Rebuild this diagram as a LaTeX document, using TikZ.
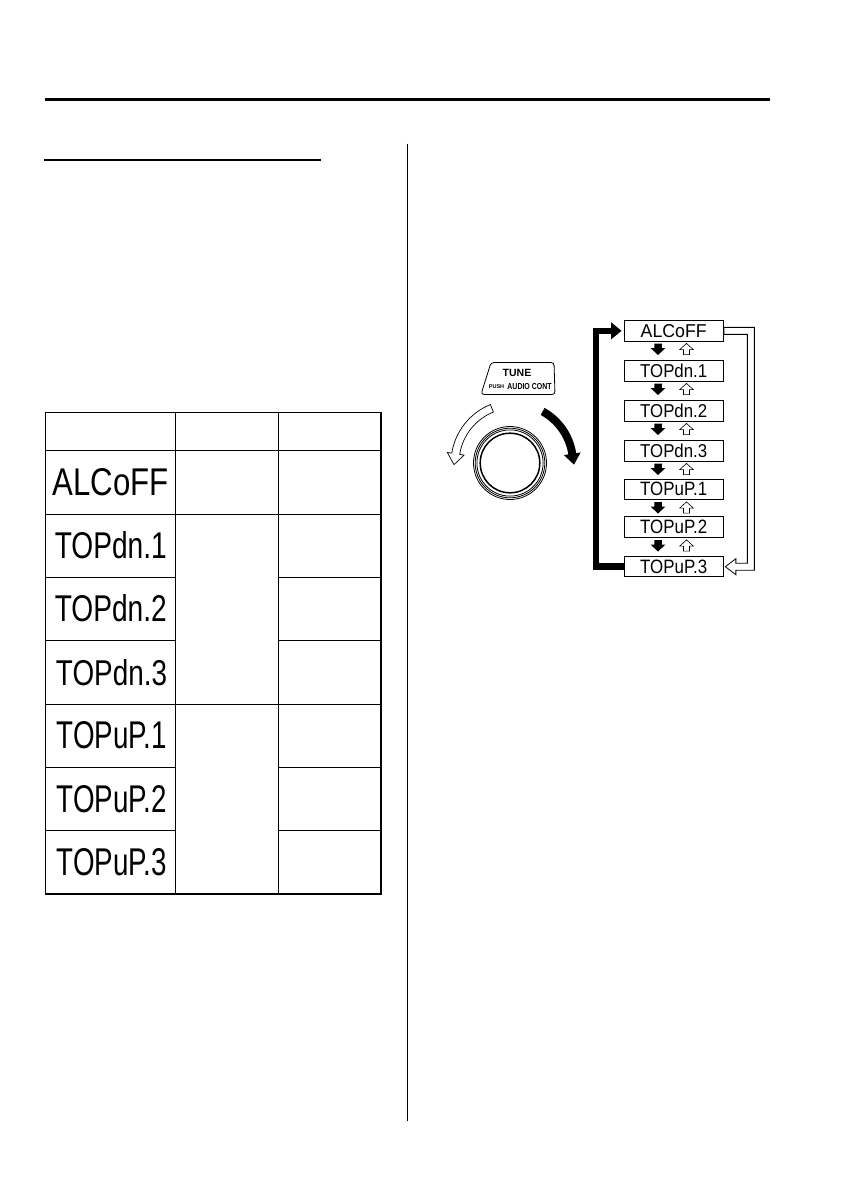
\documentclass[tikz,border=0pt]{standalone}
\usepackage{fontspec}
\setmainfont{Liberation Sans}
\usepackage{graphicx}
\usetikzlibrary{calc,arrows.meta}
\newcommand\seg[3]{\resizebox{#1}{#2}{#3}}
\tikzset{
  grid/.style={line width=1.3pt},
  segt/.style={inner sep=0pt},
  disp/.style={draw,line width=1pt,minimum width=99.3pt,minimum height=20.3pt,inner sep=0pt},
  blackdown/.pic={\fill (-3.75,-5.5) -- (3.75,-5.5) -- (3.75,-1) -- (7.5,-1) -- (0,6) -- (-7.5,-1) -- (-3.75,-1) -- cycle;},
  whiteup/.pic={\draw[fill=white,line width=0.6pt] (0,-5.6) -- (6.8,0.6) -- (3,0.6) -- (3,5.6) -- (-3,5.6) -- (-3,0.6) -- (-6.8,0.6) -- cycle;},
  bigblack/.style={line width=6.5pt,line join=miter,-{Triangle[length=10.5pt,width=16.5pt]},shorten >=2pt},
  lab/.style={inner sep=0pt,font=\bfseries}
}
\begin{document}
\begin{tikzpicture}[x=1pt,y=-1pt]
\useasboundingbox (0,0) rectangle (846,1196);
\fill[white] (0,0) rectangle (846,1196);

% page rules
\draw[line width=3pt] (45,99.2) -- (770,99.2);
\draw[line width=2pt] (44,160) -- (321,160);
\draw[line width=1.5pt] (407.5,143.5) -- (407.5,1121);

% table
\draw[grid] (45.5,412.7) rectangle (381,894);
\foreach \x in {175.5,278.3} \draw[grid] (\x,412.7) -- (\x,894);
\foreach \y in {450.5,514.3,704.3} \draw[grid] (45.5,\y) -- (381,\y);
\foreach \y in {577.3,640.5,767.3,830.7} {
  \draw[grid] (45.5,\y) -- (175.5,\y);
  \draw[grid] (278.3,\y) -- (381,\y);
}
\node[segt] (t1) at (110.5,482.4) {\seg{116pt}{27pt}{ALCoFF}};
\node[segt] (t2) at (110.8,545.3) {\seg{112pt}{27pt}{TOPdn.1}};
\node[segt] (t3) at (110.8,608.6) {\seg{112pt}{27pt}{TOPdn.2}};
\node[segt] (t4) at (111.5,672.2) {\seg{111pt}{26pt}{TOPdn.3}};
\node[segt] (t5) at (111.8,735.3) {\seg{110pt}{27pt}{TOPuP.1}};
\node[segt] (t6) at (111.8,798.8) {\seg{110pt}{27pt}{TOPuP.2}};
\node[segt] (t7) at (111.8,862.0) {\seg{110pt}{27pt}{TOPuP.3}};

% display boxes
\node[disp] (d1) at (673.7,330.85) {\seg{66pt}{13pt}{ALCoFF}};
\node[disp] (d2) at (673.7,370.85) {\seg{67pt}{13.5pt}{TOPdn.1}};
\node[disp] (d3) at (673.7,410.85) {\seg{67pt}{13.5pt}{TOPdn.2}};
\node[disp] (d4) at (673.7,450.85) {\seg{67pt}{13.5pt}{TOPdn.3}};
\node[disp] (d5) at (673.7,489.3) {\seg{67pt}{13.5pt}{TOPuP.1}};
\node[disp] (d6) at (673.7,527.0) {\seg{67pt}{13.5pt}{TOPuP.2}};
\node[disp] (d7) at (673.7,566.7) {\seg{67pt}{13.5pt}{TOPuP.3}};

% small arrows between boxes
\foreach \y in {349,389,429,469,507.5,545.5} {
  \pic at (658,\y) {blackdown};
  \pic at (686.5,\y) {whiteup};
}

% thick black return arrow
\draw[bigblack] (d7.west) -- ++(-27.5,0) |- (d1.west);

% white outlined arrow
\draw[fill=white,line width=0.8pt,line join=miter]
  ($(d1.east)+(0,-3.5)$) -- ($(d1.east)+(30.5,-3.5)$) -- ($(d7.east)+(30.5,3.5)$)
  -- ($(d7.east)+(12,3.5)$) -- ($(d7.east)+(12,8)$) -- ($(d7.east)+(1.5,0)$)
  -- ($(d7.east)+(12,-8)$) -- ($(d7.east)+(12,-3.5)$) -- ($(d7.east)+(23.5,-3.5)$)
  -- ($(d1.east)+(23.5,3.5)$) -- ($(d1.east)+(0,3.5)$) -- cycle;

% knob
\coordinate (K) at (510,463);
\draw[line width=0.8pt] (K) circle[radius=36.5];
\draw[line width=0.8pt] (K) circle[radius=34.8];
\draw[line width=0.8pt] (K) circle[radius=33.1];
\draw[line width=1.5pt] (K) circle[radius=29.8];

% rotation arrows
\coordinate (C) at (514,463);
\fill (C) ++(-61:63) arc[start angle=-61,end angle=-9,radius=63]
  -- ($(C)+(-9:67.5)$) -- ($(C)+(-9:59)+(81:11)$) -- ($(C)+(-9:50.5)$)
  -- ($(C)+(-9:55)$) arc[start angle=-9,end angle=-61,radius=55] -- cycle;
\draw[fill=white,line width=0.7pt] (C) ++(-112:63) arc[start angle=-112,end angle=-171,radius=63]
  -- ($(C)+(-171:67.5)$) -- ($(C)+(-171:59)+(-261:11)$) -- ($(C)+(-171:50.5)$)
  -- ($(C)+(-171:55)$) arc[start angle=-171,end angle=-112,radius=55] -- cycle;

% TUNE label
\draw[rounded corners=3pt,line width=0.8pt] (491,362.5) -- (554,362.5) -- (555,394.5) -- (481,394.5) -- cycle;
\node[lab,font=\bfseries\fontsize{10.5}{12}\selectfont] (tune) at (517,373) {TUNE};
\node[lab,font=\bfseries\fontsize{5.5}{6}\selectfont] (push) at (496.5,386.5) {PUSH};
\node[lab,font=\bfseries\fontsize{8.7}{10}\selectfont] (ac) at (529.5,386.3) {\scalebox{0.8}[1]{AUDIO CONT}};
\end{tikzpicture}
\end{document}
